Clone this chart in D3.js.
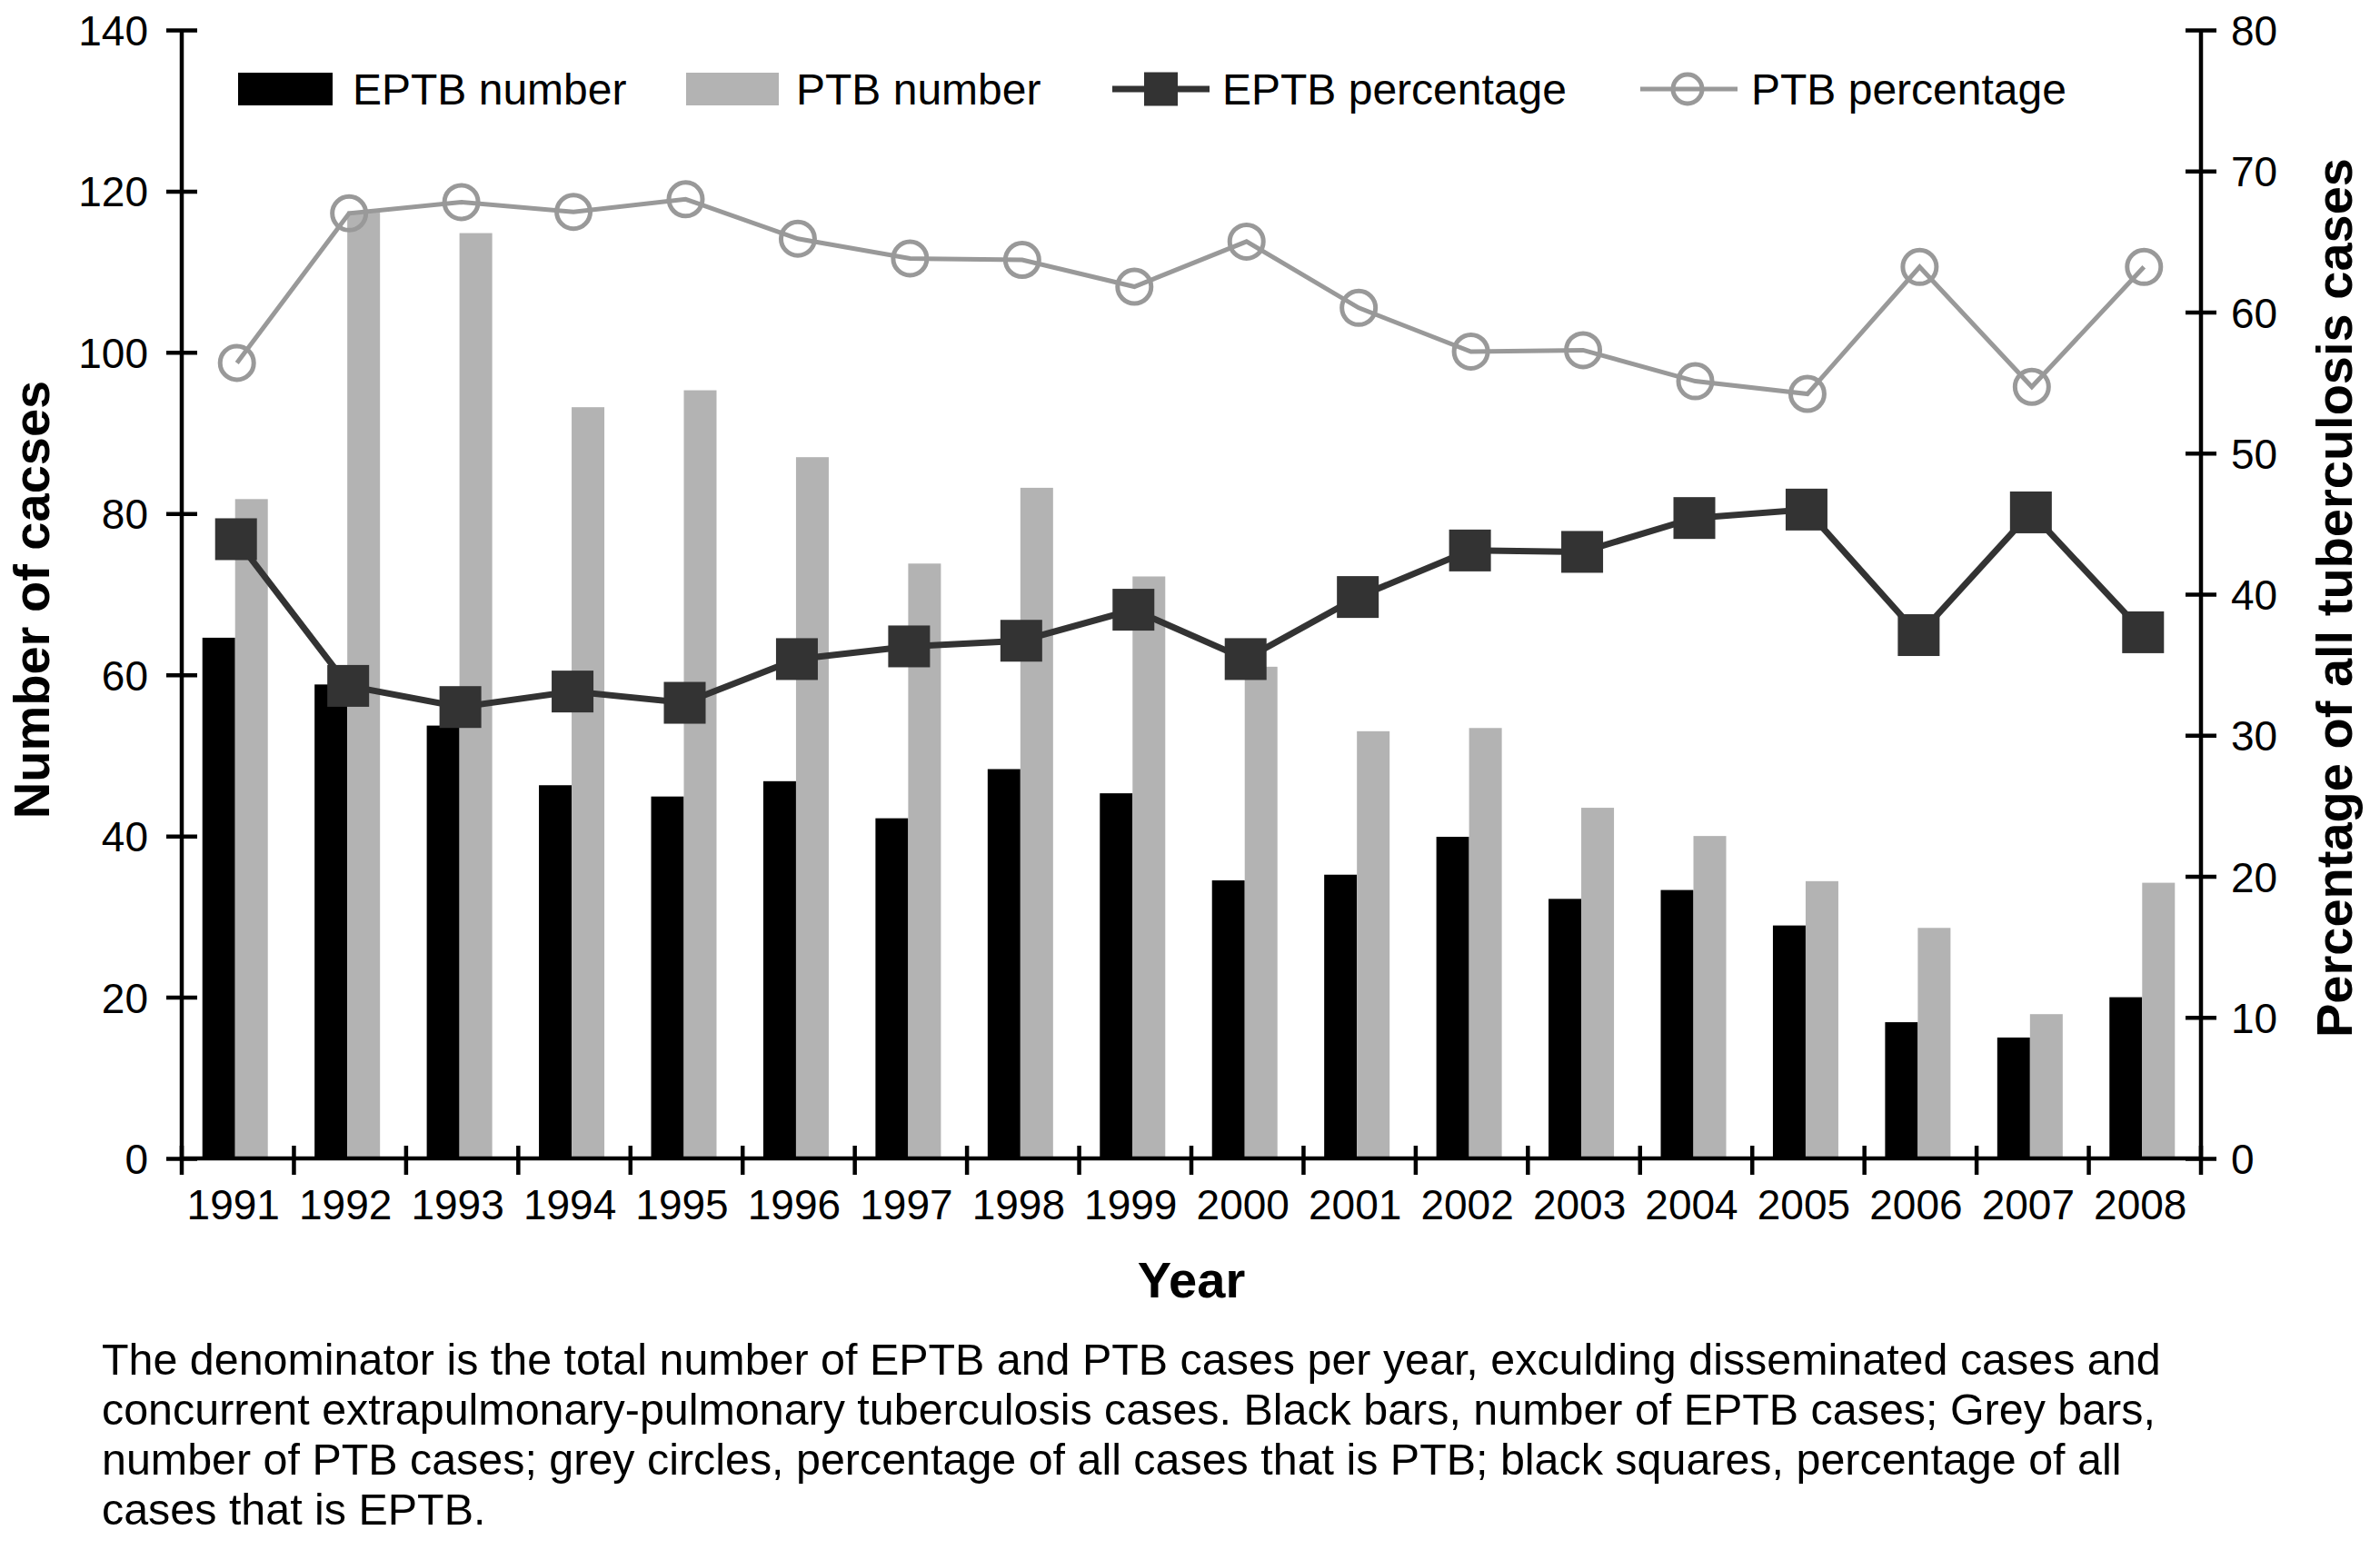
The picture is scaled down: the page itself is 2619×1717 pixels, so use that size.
<!DOCTYPE html>
<html>
<head>
<meta charset="utf-8">
<script src="https://cdn.jsdelivr.net/npm/d3@7/dist/d3.min.js"></script>
<style>
  html, body { margin: 0; padding: 0; background: #fff; }
  svg { display: block; }
  text { font-family: "Liberation Sans", Arial, Helvetica, sans-serif; fill: #000; }
</style>
</head>
<body>
<svg id="chart" width="2619" height="1717"></svg>
<script>
// ---------------- data ----------------
const years = ["1991","1992","1993","1994","1995","1996","1997","1998","1999","2000","2001","2002","2003","2004","2005","2006","2007","2008"];
const eptbNumber = [64.6, 58.8, 53.7, 46.3, 44.9, 46.8, 42.2, 48.3, 45.3, 34.5, 35.2, 39.9, 32.2, 33.3, 28.9, 16.9, 15.0, 20.0];
const ptbNumber  = [81.8, 117.5, 114.8, 93.2, 95.3, 87.0, 73.8, 83.2, 72.2, 61.0, 53.0, 53.4, 43.5, 40.0, 34.4, 28.6, 17.9, 34.2];
const eptbPercentage = [43.9, 33.5, 32.0, 33.1, 32.3, 35.4, 36.3, 36.7, 38.9, 35.4, 39.8, 43.1, 43.0, 45.4, 46.0, 37.1, 45.8, 37.3];
const ptbPercentage  = [56.4, 67.0, 67.8, 67.1, 68.0, 65.2, 63.8, 63.7, 61.8, 65.0, 60.3, 57.2, 57.3, 55.1, 54.2, 63.2, 54.7, 63.2];
const leftTicks = [0, 20, 40, 60, 80, 100, 120, 140];
const rightTicks = [0, 10, 20, 30, 40, 50, 60, 70, 80];
const legendLabels = ["EPTB number", "PTB number", "EPTB percentage", "PTB percentage"];
const captionLines = [
  "The denominator is the total number of EPTB and PTB cases per year, exculding disseminated cases and",
  "concurrent extrapulmonary-pulmonary tuberculosis cases. Black bars, number of EPTB cases; Grey bars,",
  "number of PTB cases; grey circles, percentage of all cases that is PTB; black squares, percentage of all",
  "cases that is EPTB."
];

// ---------------- layout ----------------
const L = 200, R = 2422, T = 33, B = 1275;
const C_BLACK = "#000000", C_GREY = "#b3b3b3", C_DARK = "#333333", C_LGREY = "#999999";
const FONT = 46;
const LFONT = 48;

const svg = d3.select("#chart");

const x = d3.scaleBand().domain(years).range([L, R]).paddingInner(0).paddingOuter(0);
const yL = d3.scaleLinear().domain([0, 140]).range([B, T]);
const yR = d3.scaleLinear().domain([0, 80]).range([B, T]);
const bw = x.bandwidth();
const barW = 36;
const shift = -3;
const cx = d => x(d) + bw / 2 + shift;

// ---------------- bars ----------------
svg.append("g").selectAll("rect").data(years).join("rect")
  .attr("x", (d) => cx(d) - barW)
  .attr("width", barW)
  .attr("y", (d, i) => yL(eptbNumber[i]))
  .attr("height", (d, i) => B - yL(eptbNumber[i]))
  .attr("fill", C_BLACK);

svg.append("g").selectAll("rect").data(years).join("rect")
  .attr("x", (d) => cx(d))
  .attr("width", barW)
  .attr("y", (d, i) => yL(ptbNumber[i]))
  .attr("height", (d, i) => B - yL(ptbNumber[i]))
  .attr("fill", C_GREY);

// ---------------- lines ----------------
const ptbLine = d3.line().x((d, i) => cx(years[i]) + 2).y(d => yR(d));
svg.append("path").datum(ptbPercentage)
  .attr("d", ptbLine).attr("fill", "none")
  .attr("stroke", C_LGREY).attr("stroke-width", 5).attr("stroke-linejoin", "miter");
svg.append("g").selectAll("circle").data(ptbPercentage).join("circle")
  .attr("cx", (d, i) => cx(years[i]) + 2)
  .attr("cy", d => yR(d))
  .attr("r", 18.5)
  .attr("fill", "none")
  .attr("stroke", C_LGREY).attr("stroke-width", 5);

const eptbLine = d3.line().x((d, i) => cx(years[i]) + 1).y(d => yR(d));
svg.append("path").datum(eptbPercentage)
  .attr("d", eptbLine).attr("fill", "none")
  .attr("stroke", C_DARK).attr("stroke-width", 7).attr("stroke-linejoin", "miter");
const sq = 46;
svg.append("g").selectAll("rect").data(eptbPercentage).join("rect")
  .attr("x", (d, i) => cx(years[i]) + 1 - sq / 2)
  .attr("y", d => yR(d) - sq / 2)
  .attr("width", sq).attr("height", sq)
  .attr("fill", C_DARK);

// ---------------- axes ----------------
const AX = 4.5;
const gL = svg.append("g").attr("transform", `translate(${L},0)`)
  .call(d3.axisLeft(yL).tickValues(leftTicks).tickSize(17).tickPadding(20));
gL.select(".domain").attr("stroke", "#000").attr("stroke-width", AX).attr("d", `M0,${T}V${B}`);
gL.selectAll(".tick line").attr("x1", 17).attr("x2", -17).attr("stroke", "#000").attr("stroke-width", AX);
gL.selectAll(".tick text").attr("font-size", FONT).attr("x", -37).attr("dy", "0.36em")
  .style("font-family", '"Liberation Sans", Arial, sans-serif');

const gR = svg.append("g").attr("transform", `translate(${R},0)`)
  .call(d3.axisRight(yR).tickValues(rightTicks).tickSize(17).tickPadding(20));
gR.select(".domain").attr("stroke", "#000").attr("stroke-width", AX).attr("d", `M0,${T}V${B}`);
gR.selectAll(".tick line").attr("x1", -17).attr("x2", 17).attr("stroke", "#000").attr("stroke-width", AX);
gR.selectAll(".tick text").attr("font-size", FONT).attr("x", 33).attr("dy", "0.36em")
  .style("font-family", '"Liberation Sans", Arial, sans-serif');

const gX = svg.append("g").attr("transform", `translate(0,${B})`)
  .call(d3.axisBottom(x).tickSize(0).tickPadding(0));
gX.select(".domain").remove();
gX.append("line").attr("x1", L).attr("x2", R).attr("y1", 0).attr("y2", 0)
  .attr("stroke", "#000").attr("stroke-width", AX);
gX.selectAll(".tick text").attr("font-size", FONT).attr("y", 67).attr("dy", 0).attr("x", -5)
  .style("font-family", '"Liberation Sans", Arial, sans-serif');
const bounds = d3.range(years.length + 1).map(i => L + i * bw);
gX.selectAll("line.bnd").data(bounds).join("line").attr("class", "bnd")
  .attr("x1", d => d).attr("x2", d => d).attr("y1", -14).attr("y2", 18)
  .attr("stroke", "#000").attr("stroke-width", AX);

// ---------------- axis titles ----------------
svg.append("text").attr("transform", "translate(54,660) rotate(-90)")
  .attr("text-anchor", "middle").attr("font-size", 56).attr("font-weight", "bold")
  .text("Number of cacses");
svg.append("text").attr("transform", "translate(2588,658) rotate(-90)")
  .attr("text-anchor", "middle").attr("font-size", 56).attr("font-weight", "bold")
  .text("Percentage of all tuberculosis cases");
svg.append("text").attr("x", 1311).attr("y", 1428)
  .attr("text-anchor", "middle").attr("font-size", 56).attr("font-weight", "bold")
  .text("Year");

// ---------------- legend ----------------
const lg = svg.append("g");
const ly = 98;
lg.append("rect").attr("x", 262).attr("y", ly - 18).attr("width", 104).attr("height", 36).attr("fill", C_BLACK);
lg.append("text").attr("x", 388).attr("y", ly + 17).attr("font-size", LFONT).text(legendLabels[0]);
lg.append("rect").attr("x", 755).attr("y", ly - 18).attr("width", 102).attr("height", 36).attr("fill", C_GREY);
lg.append("text").attr("x", 876).attr("y", ly + 17).attr("font-size", LFONT).text(legendLabels[1]);
lg.append("line").attr("x1", 1224).attr("x2", 1331).attr("y1", ly).attr("y2", ly)
  .attr("stroke", C_DARK).attr("stroke-width", 7);
lg.append("rect").attr("x", 1259).attr("y", ly - 18.5).attr("width", 37).attr("height", 37).attr("fill", C_DARK);
lg.append("text").attr("x", 1345).attr("y", ly + 17).attr("font-size", LFONT).text(legendLabels[2]);
lg.append("line").attr("x1", 1805).attr("x2", 1912).attr("y1", ly).attr("y2", ly)
  .attr("stroke", C_LGREY).attr("stroke-width", 5);
lg.append("circle").attr("cx", 1857).attr("cy", ly).attr("r", 16)
  .attr("fill", "none").attr("stroke", C_LGREY).attr("stroke-width", 5);
lg.append("text").attr("x", 1927).attr("y", ly + 17).attr("font-size", LFONT).text(legendLabels[3]);

// ---------------- caption ----------------
const cap = svg.append("g");
const capTexts = cap.selectAll("text").data(captionLines).join("text")
  .attr("x", 112).attr("y", (d, i) => 1513 + i * 55)
  .attr("font-size", 44).text(d => d);
const w0 = capTexts.nodes()[0].getComputedTextLength();
const capFs = 44 * 2266 / w0;
capTexts.attr("font-size", capFs);
</script>
</body>
</html>
